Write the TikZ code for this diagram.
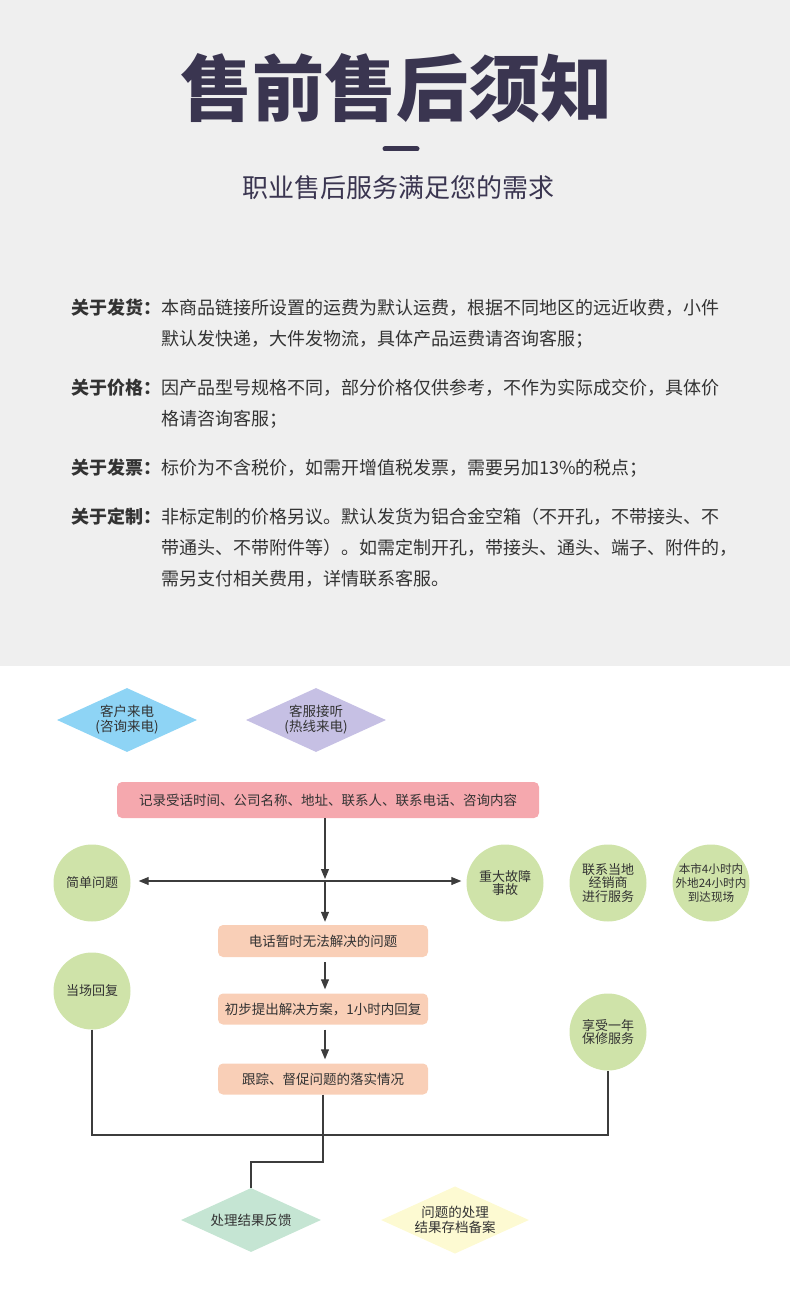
\documentclass[tikz,border=0pt]{standalone}
\usepackage{fontspec}
\setmainfont{Noto Sans CJK SC}
\usetikzlibrary{shapes.geometric,arrows.meta}
\definecolor{headgray}{HTML}{EFEFEF}
\definecolor{titleink}{HTML}{3A3550}
\definecolor{bodyink}{HTML}{333333}
\definecolor{lineink}{HTML}{3C3C3C}
\definecolor{skyfill}{HTML}{8ED4F5}
\definecolor{lilacfill}{HTML}{C6C0E4}
\definecolor{rosefill}{HTML}{F5A8AE}
\definecolor{peachfill}{HTML}{F9CFB7}
\definecolor{leaffill}{HTML}{CFE3A9}
\definecolor{mintfill}{HTML}{C5E5D3}
\definecolor{creamfill}{HTML}{FDFAD2}
\tikzset{
  bodyline/.style={anchor=west, inner sep=0pt, text=bodyink, font=\fontsize{18}{20}\selectfont},
  chart/.style={inner sep=1pt, text=bodyink, align=center, font=\fontsize{13.5}{15}\selectfont},
  callbox/.style={chart, diamond, aspect=2.2, minimum width=140pt, minimum height=64pt},
  stepbox/.style={chart, rectangle, rounded corners=5pt, fill=peachfill, minimum width=210pt, minimum height=31pt},
  bubble/.style={chart, circle, inner xsep=-6pt, fill=leaffill, minimum size=77pt, font=\fontsize{13}{13.8}\selectfont},
  flow/.style={draw=lineink, line width=1.1pt, -{Triangle[length=10pt,width=8pt]}},
  link/.style={draw=lineink, line width=1.1pt}
}
\begin{document}
\begin{tikzpicture}[x=1pt,y=-1pt]
  \useasboundingbox (0,0) rectangle (790,1300);
      %Fundo do topo
  \fill[headgray] (0,0) rectangle (790,666);
      %Titulo
  \node[inner sep=0pt, text=titleink, font=\fontsize{72}{80}\selectfont\bfseries] (title) at (396,88) {售前售后须知};
  \draw[titleink, line width=5pt, line cap=round] (385,149) -- (417,149);
  \node[inner sep=0pt, text=titleink, font=\fontsize{26}{30}\selectfont] (subtitle) at (398,188) {职业售后服务满足您的需求};
      %Texto
  \node[bodyline, font=\fontsize{18}{20}\selectfont\bfseries] (lab1) at (71,308) {关于发货：};
  \node[bodyline] (p1a) at (161,308) {本商品链接所设置的运费为默认运费，根据不同地区的远近收费，小件};
  \node[bodyline] (p1b) at (161,339) {默认发快递，大件发物流，具体产品运费请咨询客服；};
  \node[bodyline, font=\fontsize{18}{20}\selectfont\bfseries] (lab2) at (71,388) {关于价格：};
  \node[bodyline] (p2a) at (161,388) {因产品型号规格不同，部分价格仅供参考，不作为实际成交价，具体价};
  \node[bodyline] (p2b) at (161,419) {格请咨询客服；};
  \node[bodyline, font=\fontsize{18}{20}\selectfont\bfseries] (lab3) at (71,468) {关于发票：};
  \node[bodyline] (p3a) at (161,468) {标价为不含税价，如需开增值税发票，需要另加13\%的税点；};
  \node[bodyline, font=\fontsize{18}{20}\selectfont\bfseries] (lab4) at (71,517) {关于定制：};
  \node[bodyline] (p4a) at (161,517) {非标定制的价格另议。默认发货为铝合金空箱（不开孔，不带接头、不};
  \node[bodyline] (p4b) at (161,548) {带通头、不带附件等）。如需定制开孔，带接头、通头、端子、附件的，};
  \node[bodyline] (p4c) at (161,579) {需另支付相关费用，详情联系客服。};
      %Fluxograma
  \node[callbox, fill=skyfill] (call) at (127,720) {客户来电\\(咨询来电)};
  \node[callbox, fill=lilacfill] (answer) at (316,720) {客服接听\\(热线来电)};
  \node[chart, rectangle, rounded corners=5pt, fill=rosefill, minimum width=422pt, minimum height=36pt] (record) at (328,800) {记录受话时间、公司名称、地址、联系人、联系电话、咨询内容};
  \coordinate (junction) at (325,881);
  \node[bubble] (simple) at (92,883) {简单问题};
  \node[bubble] (major) at (505,883) {重大故障\\事故};
  \node[bubble] (dealer) at (608,883) {联系当地\\经销商\\进行服务};
  \node[bubble, font=\fontsize{11.6}{13.6}\selectfont] (onsite) at (711,883) {本市4小时内\\外地24小时内\\到达现场};
  \node[stepbox, minimum height=32pt] (unsolved) at (323,941) {电话暂时无法解决的问题};
  \node[stepbox] (plan) at (323,1009) {初步提出解决方案，1小时内回复};
  \node[stepbox] (track) at (323,1079) {跟踪、督促问题的落实情况};
  \node[bubble] (reply) at (92,991) {当场回复};
  \node[bubble] (warranty) at (608,1032) {享受一年\\保修服务};
  \node[callbox, fill=mintfill] (feedback) at (251,1220) {处理结果反馈};
  \node[callbox, fill=creamfill] (archive) at (455,1220) {问题的处理\\结果存档备案};
      %Setas
  \draw[flow, shorten >=2pt] (record.south -| junction) -- (junction);
  \draw[flow, shorten >=8pt] (junction) -- (simple.east |- junction);
  \draw[flow, shorten >=5pt] (junction) -- (major.west |- junction);
  \draw[flow, shorten >=3pt] (junction) -- (unsolved.north -| junction);
  \draw[flow, shorten <=5pt, shorten >=4pt] (unsolved.south -| junction) -- (plan.north -| junction);
  \draw[flow, shorten <=5pt, shorten >=4pt] (plan.south -| junction) -- (track.north -| junction);
      %Linhas
  \coordinate (bus) at (0,1135);
  \coordinate (drop) at (0,1162);
  \draw[link] (reply.south) -- (reply.south |- bus) -| (warranty.south);
  \draw[link] (track.south) -- (track.south |- drop) -| (feedback.north);
\end{tikzpicture}
\end{document}
